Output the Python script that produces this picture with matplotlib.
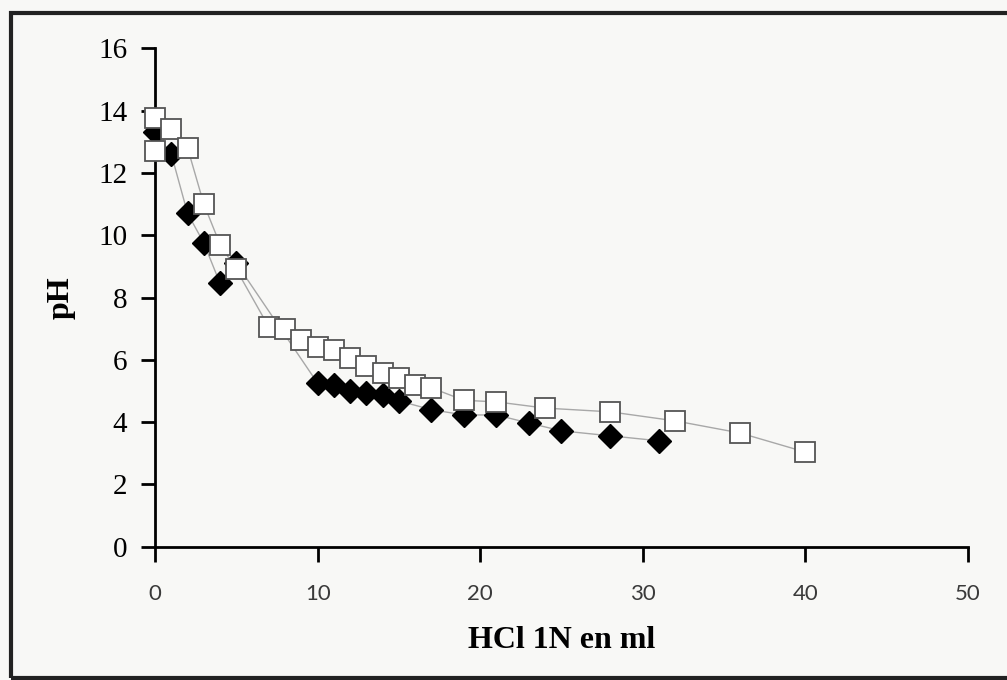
import matplotlib
matplotlib.use("Agg")
import matplotlib.pyplot as plt
from matplotlib.patches import Rectangle

# Diamonds (filled series)
x_diam = [0, 1, 2, 3, 4, 5, 10, 11, 12, 13, 14, 15, 17, 19, 21, 23, 25, 28, 31]
ph_diam = [13.3, 12.6, 10.7, 9.75, 8.45, 9.1, 5.25, 5.2, 5.0, 4.95, 4.87, 4.68,
           4.4, 4.23, 4.23, 3.97, 3.72, 3.56, 3.4]

# Squares (open series)
x_sq = [0, 0, 1, 2, 3, 4, 5, 7, 8, 9, 10, 11, 12, 13, 14, 15, 16, 17, 19, 21,
        24, 28, 32, 36, 40]
ph_sq = [13.75, 12.7, 13.4, 12.8, 11.0, 9.7, 8.9, 7.05, 7.0, 6.63, 6.4, 6.3,
         6.05, 5.8, 5.58, 5.4, 5.2, 5.1, 4.7, 4.65, 4.45, 4.33, 4.04, 3.65, 3.04]

x_ticks = [0, 10, 20, 30, 40, 50]
y_ticks = [0, 2, 4, 6, 8, 10, 12, 14, 16]

fig = plt.figure(figsize=(10.07, 6.8), dpi=100, facecolor='#f8f8f6')
ax = fig.add_axes([0.154, 0.196, 0.807, 0.733])
ax.set_facecolor('none')

ax.plot(x_diam, ph_diam, color='#a8a8a8', lw=1.0, zorder=1)
ax.plot(x_sq, ph_sq, color='#a8a8a8', lw=1.0, zorder=1)
ax.plot(x_diam, ph_diam, ls='none', marker='D', ms=12, mfc='black',
        mec='black', zorder=2)
ax.plot(x_sq, ph_sq, ls='none', marker='s', ms=15, mfc='white',
        mec='#555555', mew=1.3, zorder=3)

ax.set_xlim(0, 50)
ax.set_ylim(0, 16)
ax.set_xticks(x_ticks)
ax.set_yticks(y_ticks)
for s in ['top', 'right']:
    ax.spines[s].set_visible(False)
for s in ['left', 'bottom']:
    ax.spines[s].set_linewidth(2)
    ax.spines[s].set_color('black')
ax.tick_params(axis='y', direction='out', length=10, width=2,
               labelsize=21, pad=10)
ax.tick_params(axis='x', direction='out', length=11, width=2,
               labelsize=16, pad=16, labelcolor='#3a3a3a')
for lab in ax.get_yticklabels():
    lab.set_family('Liberation Serif')
for lab in ax.get_xticklabels():
    lab.set_family('Lato')

ax.set_xlabel('HCl 1N en ml', family='Liberation Serif', fontsize=23,
              fontweight='bold', labelpad=16)
ax.set_ylabel('pH', family='Liberation Serif', fontsize=23,
              fontweight='bold', labelpad=16)
for ln in ax.lines:
    ln.set_clip_on(False)

# frame around the figure (right edge runs off the picture)
fig.patches.append(Rectangle((0.011, 0.003), 1.0, 0.978, transform=fig.transFigure,
                             fill=False, edgecolor='#222222', lw=3))

plt.savefig('out.png', dpi=100, facecolor=fig.get_facecolor())
plt.close()
